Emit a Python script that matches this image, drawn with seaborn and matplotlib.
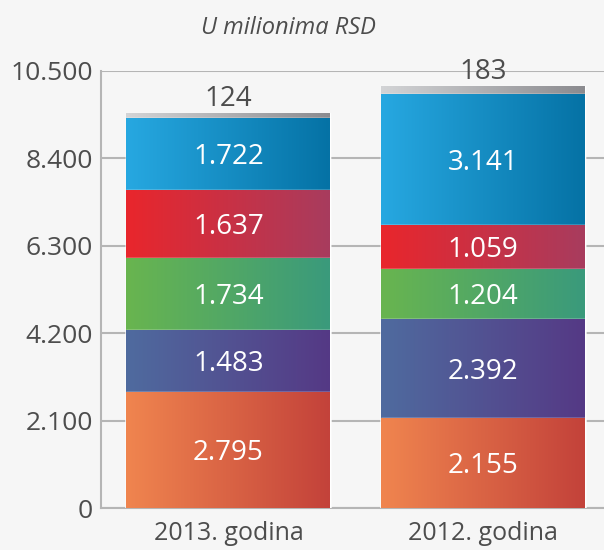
import numpy as np
import pandas as pd
import seaborn as sns
import matplotlib.pyplot as plt

# data (bottom -> top)
years = ['2013. godina', '2012. godina']
orange = [2795, 2155]
purple = [1483, 2392]
green = [1734, 1204]
red = [1637, 1059]
blue = [1722, 3141]
gray = [124, 183]

layers = [orange, purple, green, red, blue, gray]
grad = [('#f0854f', '#c3423a'),
        ('#4f6b9f', '#553985'),
        ('#69b54f', '#3a9a7c'),
        ('#e9262c', '#a83c5e'),
        ('#27a8e1', '#0572a5'),
        ('#d3d4d6', '#8b8b8f')]

def fmt(v):
    return f'{v:,}'.replace(',', '.')

sns.set_style('white')
plt.rcParams['font.family'] = ['Open Sans', 'DejaVu Sans']
txt = '#4d4d4d'

fig = plt.figure(figsize=(6.04, 5.5), dpi=100, facecolor='#f6f6f6')
ax = fig.add_axes([101 / 604, 42 / 550, 509.5 / 604, 437 / 550])
ax.set_facecolor('#f6f6f6')

cum = np.cumsum(np.array(layers), axis=0)
# draw tallest first so lower segments sit on top
for k in range(len(layers) - 1, -1, -1):
    df = pd.DataFrame({'year': years, 'val': cum[k]})
    n0 = len(ax.patches)
    sns.barplot(data=df, x='year', y='val', color=grad[k][0], width=0.8,
                saturation=1, ax=ax, zorder=2 + len(layers) - k)
    cmap = sns.blend_palette(grad[k], as_cmap=True)
    g = np.linspace(0, 1, 256).reshape(1, -1)
    for p in ax.patches[n0:]:
        x0, y0 = p.get_x(), p.get_y()
        w, h = p.get_width(), p.get_height()
        im = ax.imshow(g, cmap=cmap, aspect='auto', extent=(x0, x0 + w, y0, y0 + h),
                       zorder=p.get_zorder() + 0.5, interpolation='bicubic')
        im.set_clip_path(p)

ax.set_xlim(-0.5, 1.5)
ax.set_ylim(0, 10500)
ax.set_yticks(np.arange(0, 10501, 2100))
ax.set_yticklabels([fmt(int(v)) for v in np.arange(0, 10501, 2100)])
ax.grid(axis='y', color='#b5b5b5', linewidth=1.5, zorder=0)
ax.set_axisbelow(True)
for s in ['top', 'right']:
    ax.spines[s].set_visible(False)
for s in ['left', 'bottom']:
    ax.spines[s].set_color('#b5b5b5')
    ax.spines[s].set_linewidth(1.5)
ax.tick_params(axis='y', length=0, pad=6, labelsize=19, labelcolor=txt)
ax.tick_params(axis='x', length=4, width=1, color='#b5b5b5', pad=5, labelsize=18, labelcolor=txt)
ax.set_xlabel('')
ax.set_ylabel('')

# segment labels
for i in range(len(years)):
    for k in range(len(layers) - 1):
        mid = cum[k][i] - layers[k][i] / 2 - 80
        ax.text(i, mid, fmt(layers[k][i]), color='white', ha='center', va='center',
                fontsize=20, zorder=20)
    ax.text(i, cum[-1][i] + 170, fmt(gray[i]), color=txt, ha='center', va='baseline',
            fontsize=20, zorder=20)

fig.text(288 / 604, 1 - 28 / 550, 'U milionima RSD', ha='center', va='center',
         fontsize=17, style='italic', color=txt)

fig.savefig('out.png', dpi=100, facecolor=fig.get_facecolor())
